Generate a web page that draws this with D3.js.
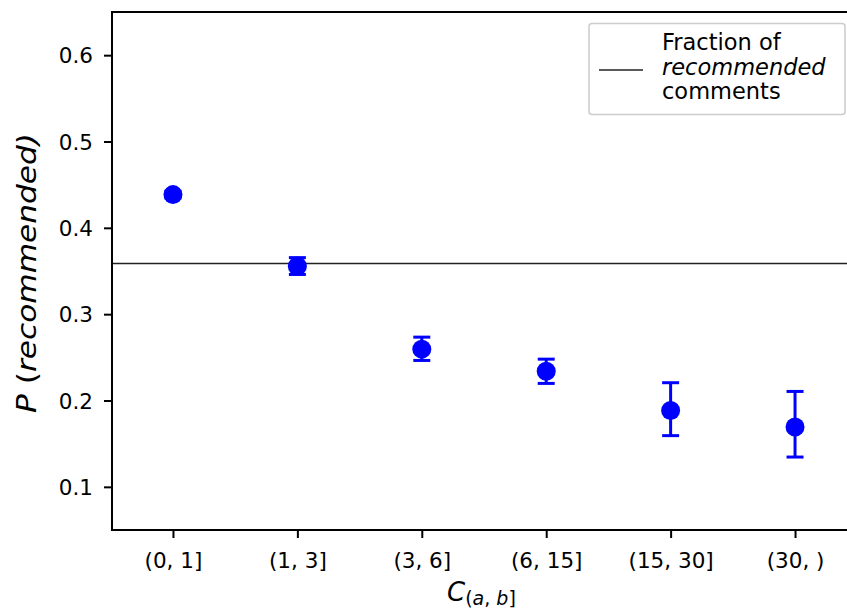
<!DOCTYPE html>
<html><head><meta charset="utf-8">
<script src="https://cdn.jsdelivr.net/npm/d3@7"></script>
<style>body{margin:0;background:#fff}svg{display:block}text{font-family:"DejaVu Sans",sans-serif}</style>
</head><body><svg id="c" width="847" height="610"></svg>
<script>
const categories = ["(0, 1]", "(1, 3]", "(3, 6]", "(6, 15]", "(15, 30]", "(30, )"];
const pValues = [0.4385, 0.3556, 0.2595, 0.2338, 0.1885, 0.1692];
const errLow = [0.4345, 0.3460, 0.2464, 0.2198, 0.1593, 0.1345];
const errHigh = [0.4425, 0.3655, 0.2734, 0.2479, 0.2206, 0.2105];
const fractionRecommended = 0.3587;
const yTicks = [0.1, 0.2, 0.3, 0.4, 0.5, 0.6];

const svg = d3.select("#c");
const L = 112, T = 12, R = 856, B = 530;
const x = d3.scaleLinear().domain([-0.49, 5.49]).range([L, R]);
const y = d3.scaleLinear().domain([0.05, 0.65]).range([B, T]);

// reference line
svg.append("line").attr("x1", L).attr("x2", R).attr("y1", y(fractionRecommended)).attr("y2", y(fractionRecommended))
  .attr("stroke", "#222").attr("stroke-width", 1.3);

// error bars
const g = svg.append("g");
categories.forEach((c, i) => {
  const cx = x(i);
  g.append("line").attr("x1", cx).attr("x2", cx).attr("y1", y(errLow[i])).attr("y2", y(errHigh[i]))
    .attr("stroke", "#0000ff").attr("stroke-width", 3);
  [errLow[i], errHigh[i]].forEach(v => {
    g.append("line").attr("x1", cx - 8.5).attr("x2", cx + 8.5).attr("y1", y(v)).attr("y2", y(v))
      .attr("stroke", "#0000ff").attr("stroke-width", 3);
  });
  g.append("circle").attr("cx", cx).attr("cy", y(pValues[i])).attr("r", 9.5).attr("fill", "#0000ff");
});

// axes
const yAxis = d3.axisLeft(y).tickValues(yTicks).tickFormat(d3.format(".1f")).tickSize(8).tickPadding(11);
const ya = svg.append("g").attr("transform", `translate(${L},0)`).call(yAxis);
const xAxis = d3.axisBottom(x).tickValues(d3.range(categories.length)).tickFormat(i => categories[i]).tickSize(8).tickPadding(14);
const xa = svg.append("g").attr("transform", `translate(0,${B})`).call(xAxis);
[ya, xa].forEach(a => {
  a.select(".domain").remove();
  a.selectAll(".tick line").attr("stroke", "#000").attr("stroke-width", 2);
  a.selectAll(".tick text").attr("fill", "#000").style("font-size", "21.5px").style("font-family", "DejaVu Sans");
});
xa.selectAll(".tick text").attr("dy", null).attr("y", 38);
ya.selectAll(".tick text").attr("dy", "0.36em");
// frame
svg.append("rect").attr("x", L).attr("y", T).attr("width", R - L).attr("height", B - T)
  .attr("fill", "none").attr("stroke", "#000").attr("stroke-width", 2);

// axis labels
const yl = svg.append("text").attr("transform", `translate(36,${(T + B) / 2 + 2}) rotate(-90)`).attr("text-anchor", "middle")
  .style("font-size", "27px").style("font-style", "italic")
  .attr("textLength", 280).attr("lengthAdjust", "spacingAndGlyphs");
yl.append("tspan").text("P");
yl.append("tspan").style("font-style", "normal").text(" (");
yl.append("tspan").text("recommended");
yl.append("tspan").text(")");

const xl = svg.append("text").attr("x", 447).attr("y", 601).attr("text-anchor", "start").style("font-size", "26px").style("font-style", "italic");
xl.append("tspan").text("C");
xl.append("tspan").attr("dy", 4).style("font-size", "19px").style("font-style", "normal").text("(");
xl.append("tspan").style("font-size", "19px").text("a");
xl.append("tspan").style("font-size", "19px").style("font-style", "normal").text(", ");
xl.append("tspan").style("font-size", "19px").text("b");
xl.append("tspan").style("font-size", "19px").style("font-style", "normal").text("]");

// legend
const lg = svg.append("g");
lg.append("rect").attr("x", 589).attr("y", 23.5).attr("width", 256).attr("height", 91).attr("rx", 3)
  .attr("fill", "#fff").attr("fill-opacity", 0.8).attr("stroke", "#ccc").attr("stroke-width", 1.5);
lg.append("line").attr("x1", 599).attr("x2", 643).attr("y1", 70).attr("y2", 70).attr("stroke", "#222").attr("stroke-width", 1.3);
const legendLines = [["Fraction of", "normal"], ["recommended", "italic"], ["comments", "normal"]];
legendLines.forEach((d, i) => {
  lg.append("text").attr("x", 662).attr("y", 50 + i * 24.5).style("font-size", "22.5px").style("font-style", d[1]).text(d[0]);
});
</script></body></html>
